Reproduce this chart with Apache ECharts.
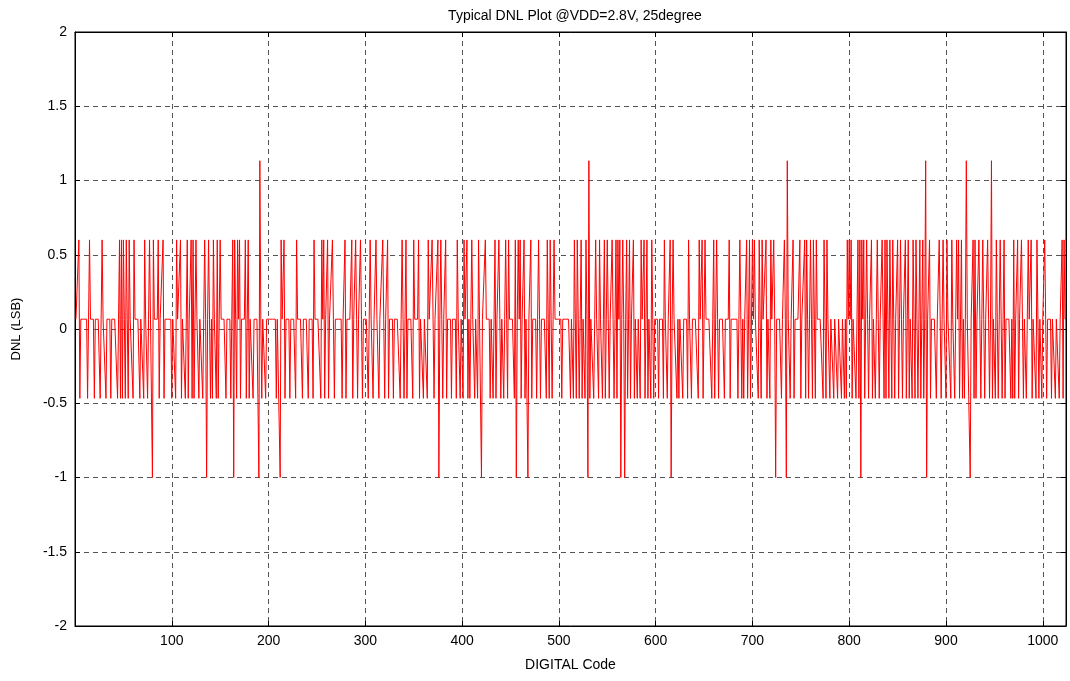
<!DOCTYPE html>
<html>
<head>
<meta charset="utf-8">
<script src="https://cdn.jsdelivr.net/npm/echarts@6/dist/echarts.min.js"></script>
<style>
  html, body { margin: 0; padding: 0; background: #fff; }
  #main { width: 1070px; height: 681px; }
</style>
</head>
<body>
<div id="main"></div>
<script>
// codes run 1..1024, most sit on the base level, spikes listed per level
var codeFirst = 1;
var codeLast = 1024;
var baseLevel = 0.066;

var levelHigh = 0.6;
var codesHigh = [4,15,28,46,48,50,53,56,61,72,77,81,86,91,
  105,109,116,120,122,125,134,138,143,147,150,163,165,168,170,176,179,
  213,216,229,247,255,257,261,266,279,
  286,290,295,305,311,318,323,338,342,350,355,365,369,
  375,378,383,395,402,405,410,417,424,434,438,445,448,455,458,460,464,
  471,479,488,491,495,516,519,523,528,538,542,547,550,555,559,
  561,563,566,570,573,577,585,588,591,596,609,615,618,634,645,648,651,
  660,663,676,687,694,697,700,702,707,710,714,719,722,733,742,
  749,754,756,760,763,766,774,777,798,800,802,809,811,813,815,818,823,829,834,
  837,839,842,845,850,853,858,861,866,869,873,876,883,893,897,901,906,911,913,916,928,
  930,934,938,943,952,956,960,970,974,978,985,988,994,1002,1020,1022];

var levelLow = -0.467;
var codesLow = [5,13,20,26,32,37,44,47,49,52,55,60,67,71,75,87,92,
  100,104,110,114,117,121,123,128,132,140,142,146,148,156,161,167,171,177,180,184,
  189,193,197,208,217,222,228,235,241,246,254,258,262,268,276,280,
  287,292,297,303,308,314,320,324,329,336,340,343,349,356,360,364,371,
  380,384,389,394,398,401,406,408,413,416,429,432,435,440,443,447,454,461,465,
  472,477,481,487,490,493,503,512,515,518,521,524,527,532,536,541,545,548,552,557,
  560,571,574,578,581,584,589,592,595,598,603,608,612,622,624,628,633,637,644,649,
  658,661,665,671,677,685,689,691,695,698,706,709,715,718,730,739,743,
  750,755,758,762,765,773,776,780,784,788,792,795,797,803,807,810,816,820,824,827,831,836,
  838,841,844,847,851,855,859,862,865,868,871,874,877,884,890,895,900,905,909,914,917,919,929,
  931,936,940,945,948,951,954,958,961,967,969,971,975,980,983,989,993,996,999,1004,1009,1013,1017,1021];

var levelMinusOne = -1;
var codesMinusOne = [80,136,164,190,212,376,420,456,468,530,564,568,616,724,735,812,880,925];

var levelPeak = 1.133;
var codesPeak = [191,531,736,879,921,947];

var yTicks = [-2, -1.5, -1, -0.5, 0, 0.5, 1, 1.5, 2];

// build the [code, dnl] pairs
var levelByCode = {};
codesHigh.forEach(function (c) { levelByCode[c] = levelHigh; });
codesLow.forEach(function (c) { levelByCode[c] = levelLow; });
codesMinusOne.forEach(function (c) { levelByCode[c] = levelMinusOne; });
codesPeak.forEach(function (c) { levelByCode[c] = levelPeak; });

var dnlData = [];
for (var c = codeFirst; c <= codeLast; c++) {
  dnlData.push([c, levelByCode[c] !== undefined ? levelByCode[c] : baseLevel]);
}

var fontName = 'Liberation Sans, Arial, sans-serif';
var gridDash = { color: '#555', width: 1, type: [5, 4] };

var myChart = echarts.init(document.getElementById('main'));
var option = {
  animation: false,
  backgroundColor: '#fff',
  title: {
    text: 'Typical DNL Plot @VDD=2.8V, 25degree',
    left: 570,
    textAlign: 'center',
    top: 4,
    textStyle: { fontFamily: fontName, fontSize: 14, fontWeight: 'normal', color: '#000' }
  },
  grid: {
    left: 75, right: 4, top: 32, bottom: 55,
    show: true, borderColor: '#000', borderWidth: 1, backgroundColor: '#fff'
  },
  xAxis: [{
    type: 'value',
    min: 0, max: 1024, interval: 100,
    name: 'DIGITAL Code',
    nameLocation: 'middle',
    nameGap: 32,
    nameTextStyle: { fontFamily: fontName, fontSize: 14, color: '#000' },
    axisLine: { show: true, onZero: false, lineStyle: { color: '#000' } },
    axisTick: { show: true, inside: true, length: 5, lineStyle: { color: '#000' } },
    axisLabel: {
      fontFamily: fontName, fontSize: 14, color: '#000', margin: 8,
      formatter: function (v) { return (v > 0 && v % 100 === 0) ? String(v) : ''; }
    },
    splitLine: { show: true, lineStyle: gridDash }
  }, {
    type: 'value', position: 'top',
    min: 0, max: 1024, interval: 100,
    axisLine: { show: true, onZero: false, lineStyle: { color: '#000' } },
    axisTick: { show: true, inside: true, length: 5, lineStyle: { color: '#000' } },
    axisLabel: { show: false },
    splitLine: { show: false }
  }],
  yAxis: [{
    type: 'value',
    min: yTicks[0], max: yTicks[yTicks.length - 1], interval: 0.5,
    name: 'DNL (LSB)',
    nameLocation: 'middle',
    nameRotate: 90,
    nameGap: 52,
    nameTextStyle: { fontFamily: fontName, fontSize: 13, color: '#000' },
    axisLine: { show: true, onZero: false, lineStyle: { color: '#000' } },
    axisTick: { show: true, inside: true, length: 5, lineStyle: { color: '#000' } },
    axisLabel: { fontFamily: fontName, fontSize: 14, color: '#000', margin: 8 },
    splitLine: { show: true, lineStyle: gridDash }
  }, {
    type: 'value', position: 'right',
    min: yTicks[0], max: yTicks[yTicks.length - 1], interval: 0.5,
    axisLine: { show: true, onZero: false, lineStyle: { color: '#000' } },
    axisTick: { show: true, inside: true, length: 5, lineStyle: { color: '#000' } },
    axisLabel: { show: false },
    splitLine: { show: false }
  }],
  series: [{
    name: 'DNL',
    type: 'line',
    xAxisIndex: 0,
    yAxisIndex: 0,
    data: dnlData,
    showSymbol: false,
    symbol: 'none',
    lineStyle: { color: '#ff0000', width: 1 },
    z: 3
  }]
};
myChart.setOption(option);
</script>
</body>
</html>
